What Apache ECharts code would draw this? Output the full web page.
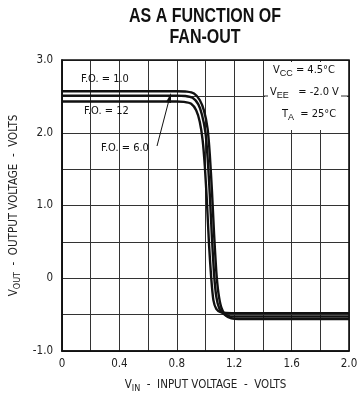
<!DOCTYPE html>
<html>
<head>
    <meta charset="UTF-8">
    <title></title>
    <script type="text/javascript" src="https://cdn.jsdelivr.net/npm/echarts@6/dist/echarts.min.js"></script>
</head>
<body style="margin:0">

<div id="mainfo" style="height: 393px; width: 361px;"></div>
<script type="text/javascript">

    // transfer curves: [Vin, Vout]
    var fo1 = [[0, 2.57], [0.80, 2.57], [0.87, 2.565], [0.92, 2.54], [0.96, 2.45], [0.99, 2.3], [1.015, 2.05],
        [1.03, 1.7], [1.045, 1.2], [1.06, 0.6], [1.075, 0.1], [1.09, -0.2], [1.11, -0.4], [1.14, -0.51],
        [1.18, -0.55], [1.23, -0.56], [2.0, -0.56]];
    var fo6 = [[0, 2.51], [0.80, 2.51], [0.86, 2.505], [0.91, 2.48], [0.95, 2.39], [0.975, 2.25], [1.0, 2.0],
        [1.015, 1.65], [1.03, 1.15], [1.045, 0.55], [1.06, 0.05], [1.075, -0.25], [1.095, -0.41], [1.125, -0.49],
        [1.165, -0.52], [1.22, -0.525], [2.0, -0.525]];
    var fo12 = [[0, 2.43], [0.80, 2.43], [0.85, 2.425], [0.90, 2.40], [0.935, 2.31], [0.96, 2.15], [0.98, 1.9],
        [0.995, 1.55], [1.01, 1.05], [1.025, 0.45], [1.04, 0.0], [1.055, -0.3], [1.075, -0.42], [1.105, -0.465],
        [1.145, -0.478], [1.2, -0.48], [2.0, -0.48]];

    var xTicks = [0, 0.4, 0.8, 1.2, 1.6, 2.0];
    var yTicks = [-1, 0, 1, 2, 3];

    var myChartfo = echarts.init(document.getElementById('mainfo'));

    var fnt = "'DejaVu Sans Condensed', 'Liberation Sans Narrow', sans-serif";
    var sub = { fontSize: 9, verticalAlign: 'bottom', padding: [7, 0, 0, 0], color: '#222' };

    function curve(name, data) {
        return {
            name: name,
            type: 'line',
            data: data,
            showSymbol: false,
            symbol: 'none',
            smooth: 0.2,
            lineStyle: { color: '#111', width: 2.4 },
            z: 5
        };
    }

    function tick(list) {
        return function (v) {
            for (var i = 0; i < list.length; i++) {
                if (Math.abs(v - list[i]) < 1e-6) return v === 0 ? '0' : v.toFixed(1);
            }
            return '';
        };
    }

    option = {
        animation: false,
        backgroundColor: '#fff',
        textStyle: { fontFamily: fnt },
        grid: {
            left: 62,
            width: 287,
            top: 60,
            height: 291,
            outerBoundsMode: 'none'
        },
        xAxis: [{
            type: 'value',
            min: 0,
            max: 2,
            interval: 0.2,
            name: 'V{s|IN}  -  INPUT VOLTAGE  -  VOLTS',
            nameLocation: 'middle',
            nameGap: 26,
            nameTextStyle: { fontFamily: fnt, fontSize: 11.5, color: '#222', rich: { s: sub } },
            axisLine: { onZero: false, lineStyle: { color: '#111', width: 1.6 } },
            axisTick: { show: false },
            axisLabel: { color: '#222', fontSize: 11.5, margin: 7, formatter: tick(xTicks) },
            splitLine: { show: true, lineStyle: { color: '#333', width: 1 } }
        }],
        yAxis: [{
            type: 'value',
            min: -1,
            max: 3,
            interval: 0.5,
            name: 'V{s|OUT}  -  OUTPUT VOLTAGE  -  VOLTS',
            nameLocation: 'middle',
            nameGap: 36,
            nameTextStyle: { fontFamily: fnt, fontSize: 11.5, color: '#222', rich: { s: sub } },
            axisLine: { show: true, onZero: false, lineStyle: { color: '#111', width: 1.6 } },
            axisTick: { show: false },
            axisLabel: { color: '#222', fontSize: 11.5, margin: 9, formatter: tick(yTicks) },
            splitLine: { show: true, lineStyle: { color: '#333', width: 1 } }
        }],
        graphic: [
            // title, condensed bold
            {
                type: 'text', x: 205, y: 6, scaleX: 0.8, z: 9,
                style: {
                    text: 'AS A FUNCTION OF\nFAN-OUT', align: 'center',
                    fontFamily: "'Liberation Sans', Arial, sans-serif", fontWeight: 'bold',
                    fontSize: 20, lineHeight: 21, fill: '#111'
                }
            },
            // frame top / right
            { type: 'rect', shape: { x: 62, y: 60, width: 287, height: 291 }, style: { fill: 'none', stroke: '#111', lineWidth: 1.6 }, z: 10 },
            // condition box
            { type: 'rect', shape: { x: 265, y: 62, width: 82, height: 68 }, style: { fill: '#fff' }, z: 8 },
            { type: 'line', shape: { x1: 263, y1: 96, x2: 268, y2: 96 }, style: { stroke: '#333', lineWidth: 1 }, z: 9 },
            { type: 'line', shape: { x1: 341, y1: 96, x2: 349, y2: 96 }, style: { stroke: '#333', lineWidth: 1 }, z: 9 },
            { type: 'text', left: 273, top: 65, z: 9, style: { text: 'V{s|CC} = 4.5°C', fontFamily: fnt, fontSize: 11, fill: '#111', rich: { s: sub } } },
            { type: 'text', left: 270, top: 87, z: 9, style: { text: 'V{s|EE}   = -2.0 V', fontFamily: fnt, fontSize: 11, fill: '#111', rich: { s: sub } } },
            { type: 'text', left: 282, top: 109, z: 9, style: { text: 'T{s|A}  = 25°C', fontFamily: fnt, fontSize: 11, fill: '#111', rich: { s: sub } } },
            // curve labels
            { type: 'text', left: 81, top: 74, z: 9, style: { text: 'F.O. = 1.0', fontFamily: fnt, fontSize: 11, fill: '#111' } },
            { type: 'text', left: 84, top: 106, z: 9, style: { text: 'F.O. = 12', fontFamily: fnt, fontSize: 11, fill: '#111' } },
            { type: 'text', left: 101, top: 143, z: 9, style: { text: 'F.O. = 6.0', fontFamily: fnt, fontSize: 11, fill: '#111' } },
            { type: 'line', shape: { x1: 157, y1: 146, x2: 169, y2: 100 }, style: { stroke: '#111', lineWidth: 1 }, z: 9 },
            { type: 'polygon', shape: { points: [[171, 93], [166, 102], [171, 103]] }, style: { fill: '#111' }, z: 9 }
        ],
        series: [
            curve('F.O. = 1.0', fo1),
            curve('F.O. = 6.0', fo6),
            curve('F.O. = 12', fo12)
        ]
    };

    myChartfo.setOption(option);

</script>

</body>
</html>
